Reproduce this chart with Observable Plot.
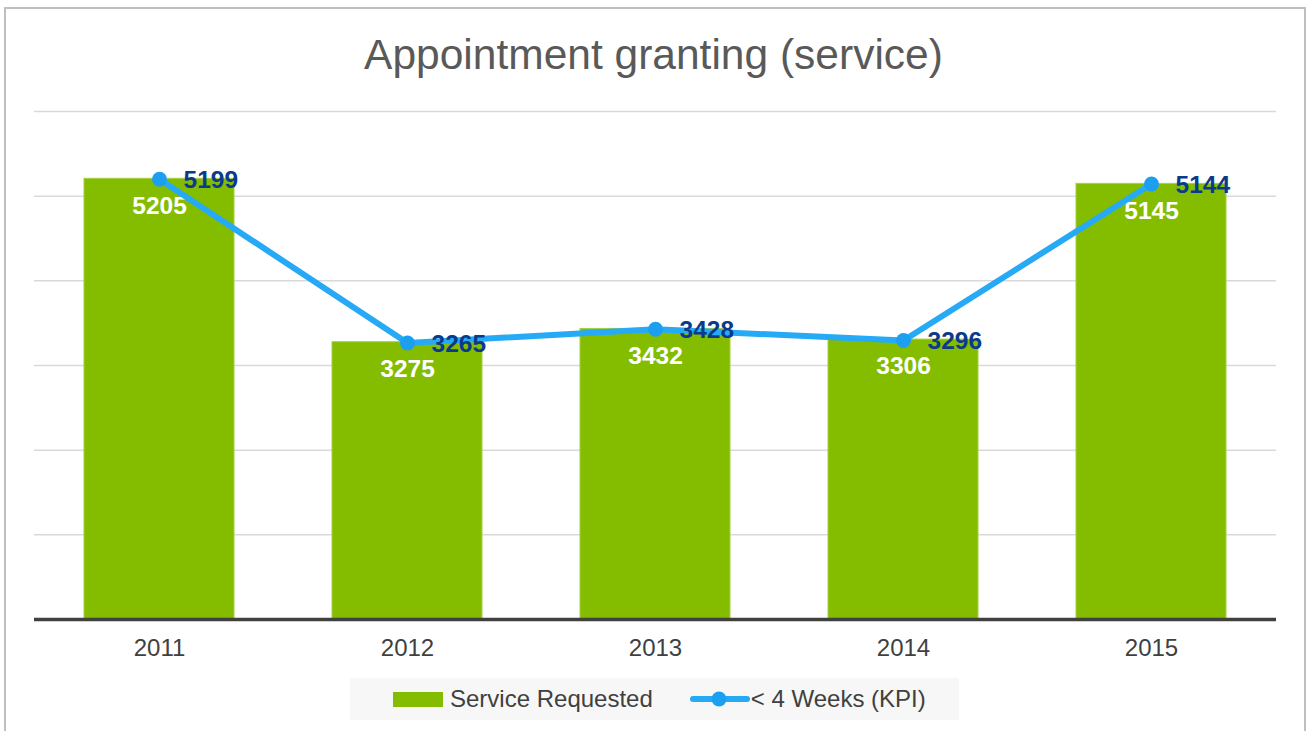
<!DOCTYPE html>
<html>
<head>
<meta charset="utf-8">
<script src="https://cdn.jsdelivr.net/npm/d3@7"></script>
<script src="https://cdn.jsdelivr.net/npm/@observablehq/plot@0.6"></script>
<style>
  html, body { margin: 0; padding: 0; background: #fff; }
  body { width: 1307px; height: 731px; overflow: hidden; position: relative; font-family: "Liberation Sans", Arial, sans-serif; }
  #frame { position: absolute; left: 4px; top: 7px; width: 1302px; height: 740px; border: 2px solid #bfbfbf; box-sizing: border-box; }
  #title { position: absolute; left: 0; top: 28px; width: 1307px; text-align: center; font-size: 42.5px; color: #595959; line-height: 54px; }
  #chart { position: absolute; left: 0; top: 0; }
  #legend { position: absolute; left: 350px; top: 678px; width: 609px; height: 42px; background: #f7f7f7; display: flex; align-items: center; font-size: 24px; color: #404040; }
  .sw { display: inline-block; }
</style>
</head>
<body>
<div id="frame"></div>
<div id="chart"></div>
<div id="title">Appointment granting (service)</div>
<div id="legend">
  <span class="sw" style="margin-left:43px;width:50px;height:15px;background:#84bd00;"></span>
  <span style="margin-left:7px;">Service Requested</span>
  <svg class="sw" width="60" height="20" style="margin-left:37px;">
    <line x1="3" y1="10" x2="57" y2="10" stroke="#27aaf5" stroke-width="6" stroke-linecap="round"></line>
    <circle cx="29" cy="10" r="7.5" fill="#1d9ff0"></circle>
  </svg>
  <span style="margin-left:1px;">&lt; 4 Weeks (KPI)</span>
</div>
<script>
const years = ["2011", "2012", "2013", "2014", "2015"];
const serviceRequested = [5205, 3275, 3432, 3306, 5145];
const kpi = [5199, 3265, 3428, 3296, 5144];
const gridTicks = [1000, 2000, 3000, 4000, 5000, 6000];

const data = years.map((y, i) => ({year: y, service: serviceRequested[i], kpi: kpi[i]}));

const chart = Plot.plot({
  width: 1307,
  height: 680,
  marginLeft: 34,
  marginRight: 31,
  marginTop: 111,
  marginBottom: 61,
  style: {fontFamily: "'Liberation Sans', Arial, sans-serif", fontSize: "24px", color: "#404040", background: "transparent"},
  x: {domain: years, paddingInner: 0.395, paddingOuter: 0.1975, label: null, tickSize: 0, tickPadding: 19},
  y: {domain: [0, 6000], axis: null},
  marks: [
    Plot.ruleY(gridTicks, {stroke: "#d9d9d9", strokeWidth: 1.5}),
    Plot.barY(data, {x: "year", y: "service", fill: "#84bd00", stroke: "#a3cf45", strokeWidth: 1}),
    Plot.ruleY([0], {stroke: "#404040", strokeWidth: 3.5}),
    Plot.text(data, {x: "year", y: "service", text: d => String(d.service), fill: "#ffffff", fontWeight: "bold", fontSize: 24.5, dy: 27}),
    Plot.line(data, {x: "year", y: "kpi", stroke: "#27aaf5", strokeWidth: 6, strokeLinejoin: "round"}),
    Plot.dot(data, {x: "year", y: "kpi", r: 7.5, fill: "#1d9ff0", stroke: "none"}),
    Plot.text(data, {x: "year", y: "kpi", text: d => String(d.kpi), fill: "#0c3a8b", fontWeight: "bold", fontSize: 24.5, textAnchor: "start", dx: 24, dy: 1})
  ]
});
document.getElementById("chart").appendChild(chart);
</script>
</body>
</html>
